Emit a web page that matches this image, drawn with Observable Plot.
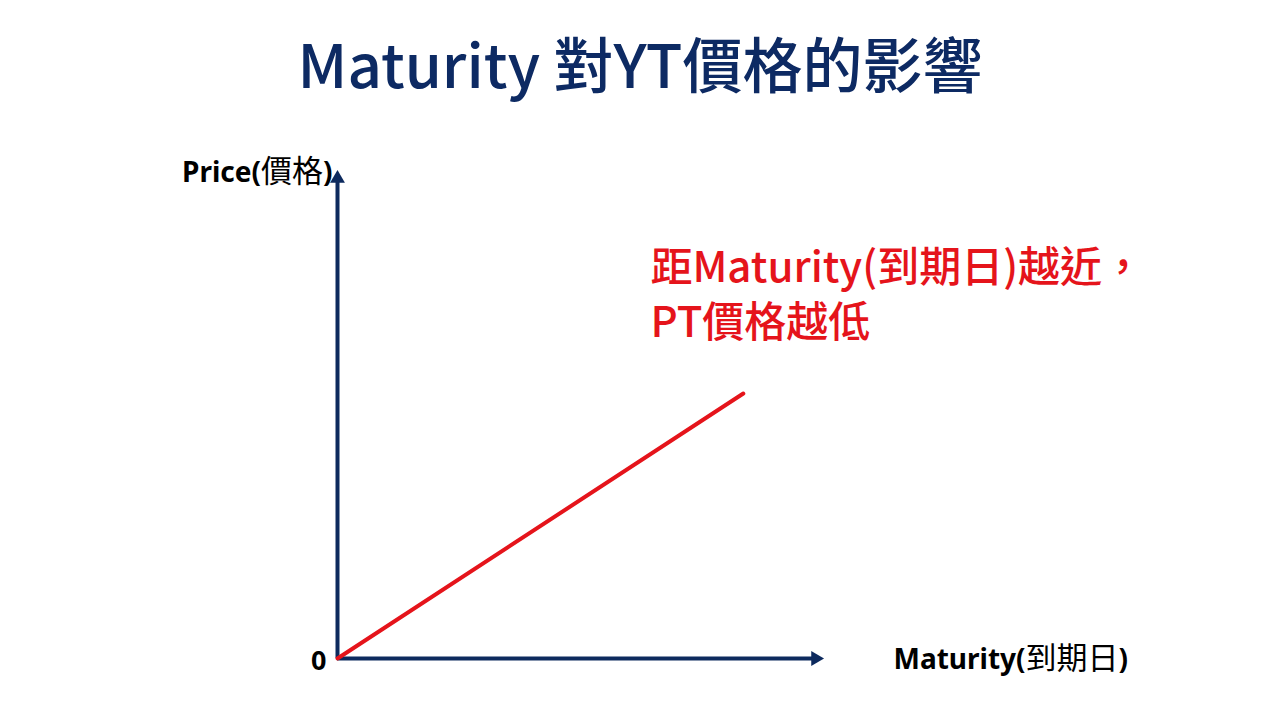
<!DOCTYPE html>
<html>
<head>
<meta charset="utf-8">
<script src="https://cdn.jsdelivr.net/npm/d3@7"></script>
<script src="https://cdn.jsdelivr.net/npm/@observablehq/plot@0.6"></script>
<style>
  html, body { margin: 0; padding: 0; background: #ffffff; }
  #wrap { width: 1280px; height: 720px; position: relative; overflow: hidden; }
  #title {
    height: 120px; line-height: 124px; text-align: center;
    font-family: "Noto Sans CJK TC", "Noto Sans", sans-serif;
    font-weight: 500; font-size: 60px; color: #0d2a63;
  }
  #chart svg { display: block; }
</style>
</head>
<body>
<div id="wrap">
  <div id="title"></div>
  <div id="chart"></div>
</div>
<script>
// ---- data ----
const titleText = "Maturity 對YT價格的影響";
const axisMax = 100;              // arrow tips of both axes (data units)
const axisLineEnd = 98;           // where the axis shaft stops under the arrow head
const priceLine = [               // maturity vs. price (red line)
  { maturity: 0, price: 0 },
  { maturity: 83.5, price: 54.3 }
];
const yAxisLabel = "Price(價格)";
const xAxisLabel = "Maturity(到期日)";
const originLabel = "0";
const noteLines = ["距Maturity(到期日)越近，", "PT價格越低"];
const noteAt = { maturity: 64.4, price: 75.1 };
const xLabelAt = 114.4;
const yLabelAt = 99.4;

const navy = "#0d2a5e";
const red = "#e5141b";

document.getElementById("title").textContent = titleText;

const svg = Plot.plot({
  width: 1280,
  height: 600,
  marginLeft: 337,
  marginRight: 457,
  marginTop: 50,
  marginBottom: 62,
  x: { domain: [0, axisMax], axis: null },
  y: { domain: [0, axisMax], axis: null },
  style: { background: "transparent", overflow: "visible" },
  marks: [
    // axes shafts
    Plot.ruleY([0], { x1: 0, x2: axisLineEnd, stroke: navy, strokeWidth: 4 }),
    Plot.ruleX([0], { y1: 0, y2: axisLineEnd, stroke: navy, strokeWidth: 4 }),
    // arrow heads
    Plot.dot([{ x: axisMax, y: 0 }], { x: "x", y: "y", symbol: "triangle", r: 5.5, fill: navy, stroke: null, rotate: 90, dx: -8 }),
    Plot.dot([{ x: 0, y: axisMax }], { x: "x", y: "y", symbol: "triangle", r: 5.5, fill: navy, stroke: null, dy: 8 }),
    // red price line
    Plot.line(priceLine, { x: "maturity", y: "price", stroke: red, strokeWidth: 4 }),
    // origin label
    Plot.text([originLabel], { x: 0, y: 0, text: d => d, textAnchor: "end", dx: -11, dy: 3,
      fontSize: 27, fontWeight: "bold", fill: "#000", fontFamily: "Noto Sans, sans-serif" }),
    // axis labels
    Plot.text([yAxisLabel], { x: 0, y: yLabelAt, text: d => d, textAnchor: "end", dx: -5,
      fontSize: 28, fill: "#000", fontFamily: "Noto Sans, Noto Sans CJK TC, sans-serif" }),
    Plot.text([xAxisLabel], { x: xLabelAt, y: 0, text: d => d, textAnchor: "start", dy: 2,
      fontSize: 28, fill: "#000", fontFamily: "Noto Sans, Noto Sans CJK TC, sans-serif" }),
    // red annotation
    Plot.text([noteLines.join("\n")], { x: noteAt.maturity, y: noteAt.price, text: d => d,
      textAnchor: "start", lineAnchor: "middle", lineHeight: 1.32,
      fontSize: 42, fontWeight: 500, fill: red, fontFamily: "Noto Sans CJK TC, sans-serif" })
  ]
});

// Mixed weight for axis labels: Latin runs bold, CJK runs regular & slightly larger
const NS = "http://www.w3.org/2000/svg";
svg.querySelectorAll("text").forEach(t => {
  const s = t.textContent;
  if (s === yAxisLabel || s === xAxisLabel) {
    t.textContent = "";
    for (const run of s.match(/[\u3400-\u9fff]+|[^\u3400-\u9fff]+/g)) {
      const cjk = /[\u3400-\u9fff]/.test(run);
      const sp = document.createElementNS(NS, "tspan");
      sp.setAttribute("font-weight", cjk ? "normal" : "bold");
      sp.setAttribute("font-family", cjk ? "Noto Sans CJK TC, sans-serif" : "Noto Sans, sans-serif");
      if (cjk) sp.setAttribute("font-size", "31");
      sp.textContent = run;
      t.appendChild(sp);
    }
  }
});

document.getElementById("chart").appendChild(svg);
</script>
</body>
</html>
